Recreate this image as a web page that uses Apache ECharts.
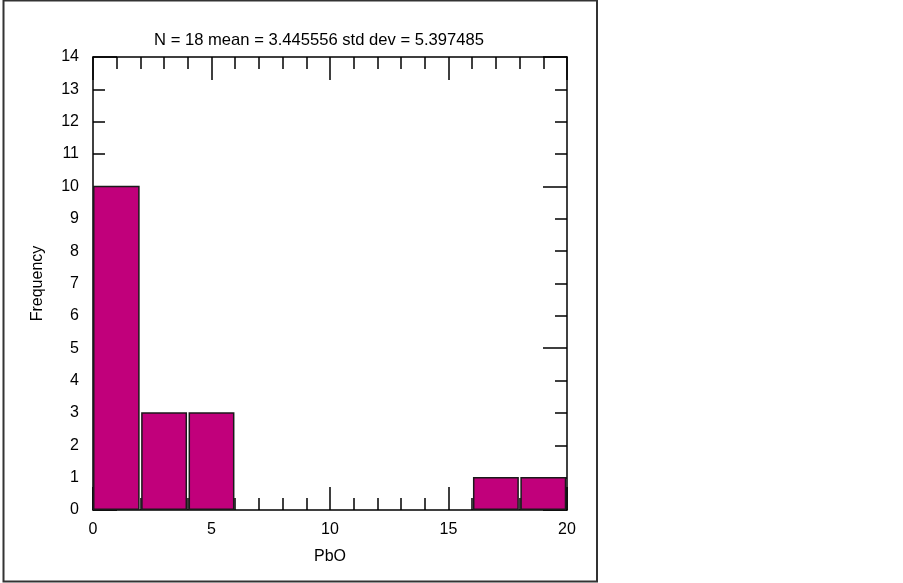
<!DOCTYPE html>
<html>
<head>
<meta charset="utf-8">
<script src="https://cdn.jsdelivr.net/npm/echarts@6/dist/echarts.min.js"></script>
<style>
html,body{margin:0;padding:0;background:#fff;}
#chart{width:903px;height:583px;}
</style>
</head>
<body>
<div id="chart"></div>
<script>
var binStart = [0, 2, 4, 16, 18];
var binEnd = [2, 4, 6, 18, 20];
var counts = [10, 3, 3, 1, 1];
var titleText = 'N = 18 mean = 3.445556 std dev = 5.397485';
var xName = 'PbO';
var yName = 'Frequency';

var FONT = '"Liberation Sans", Arial, sans-serif';
var data = binStart.map(function (s, i) { return [s, binEnd[i], counts[i]]; });

var chart = echarts.init(document.getElementById('chart'));

function xAx(pos, showLabel) {
  return {
    type: 'value', position: pos, min: 0, max: 20, interval: 5,
    name: showLabel ? xName : '', nameLocation: 'middle', nameGap: 39,
    nameTextStyle: { fontFamily: FONT, fontSize: 16, color: '#000' },
    axisLine: { show: true, onZero: false, lineStyle: { color: '#000', width: 1.5 } },
    axisTick: { show: true, inside: true, length: 23, lineStyle: { color: '#000', width: 1.5 } },
    minorTick: { show: true, splitNumber: 5, length: 12, lineStyle: { color: '#000', width: 1.5 } },
    axisLabel: { show: showLabel, fontFamily: FONT, fontSize: 16, color: '#000', margin: 12 },
    splitLine: { show: false }, minorSplitLine: { show: false }
  };
}
function yAx(pos) {
  return {
    type: 'value', position: pos, min: 0, max: 14, interval: 5,
    axisLine: { show: true, onZero: false, lineStyle: { color: '#000', width: 1.5 } },
    axisTick: { show: true, inside: true, length: 24, lineStyle: { color: '#000', width: 1.5 } },
    minorTick: { show: true, splitNumber: 5, length: 12, lineStyle: { color: '#000', width: 1.5 } },
    axisLabel: { show: false },
    splitLine: { show: false }, minorSplitLine: { show: false }
  };
}

var yLabelAxis = {
  type: 'value', position: 'left', min: 0, max: 14, interval: 1,
  name: yName, nameLocation: 'middle', nameGap: 47,
  nameTextStyle: { fontFamily: FONT, fontSize: 16, color: '#000' },
  axisLine: { show: false }, axisTick: { show: false },
  axisLabel: { show: true, fontFamily: FONT, fontSize: 16, color: '#000', margin: 14 },
  splitLine: { show: false }
};

chart.setOption({
  animation: false,
  backgroundColor: '#fff',
  title: {
    text: titleText, left: 314, top: 27, textAlign: 'center',
    textStyle: { fontFamily: FONT, fontSize: 16.6, fontWeight: 'normal', color: '#000' }
  },
  grid: { left: 93, right: 336, top: 57, bottom: 73, containLabel: false },
  xAxis: [xAx('bottom', true), xAx('top', false)],
  yAxis: [yAx('left'), yAx('right'), yLabelAxis],
  graphic: [{
    type: 'rect', silent: true, z: -1,
    shape: { x: 3.5, y: 0.5, width: 593.5, height: 581 },
    style: { fill: null, stroke: '#333', lineWidth: 2 }
  }],
  series: [{
    type: 'custom',
    xAxisIndex: 0, yAxisIndex: 0,
    encode: { x: [0, 1], y: 2 },
    data: data,
    renderItem: function (params, api) {
      var p0 = api.coord([api.value(0), 0]);
      var p1 = api.coord([api.value(1), api.value(2)]);
      var x0 = p0[0] + (api.value(0) === 0 ? 0.75 : 1.5);
      var x1 = p1[0] - 1.5;
      return {
        type: 'rect',
        shape: { x: x0, y: p1[1], width: x1 - x0, height: p0[1] - p1[1] - 0.75 },
        style: { fill: '#c1007b', stroke: '#1a1a1a', lineWidth: 1.5 }
      };
    }
  }]
});
</script>
</body>
</html>
